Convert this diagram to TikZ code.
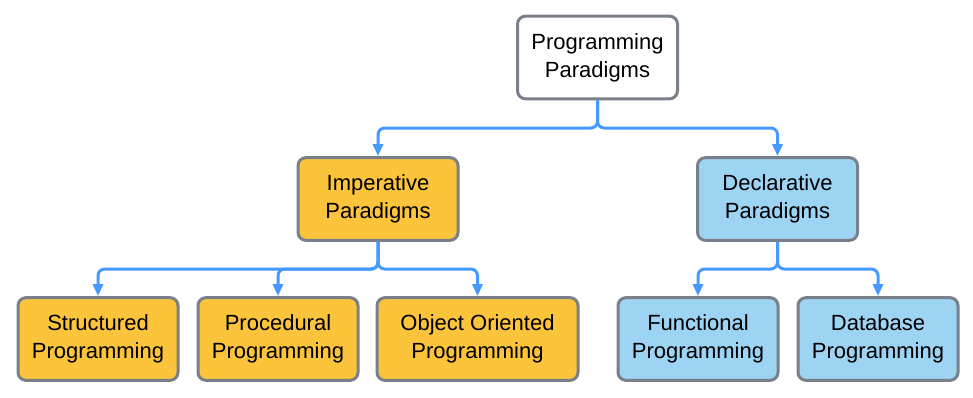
\documentclass[tikz,border=0pt]{standalone}
\usepackage{fontspec}
\setmainfont{Liberation Sans}
\usetikzlibrary{arrows.meta}
\definecolor{boxedge}{RGB}{122,128,137}
\definecolor{linkblue}{RGB}{70,154,255}
\definecolor{impfill}{RGB}{252,196,58}
\definecolor{decfill}{RGB}{157,211,243}
\tikzset{
  box/.style={draw=boxedge, line width=2.25pt, rounded corners=6pt,
    minimum height=62pt, align=center, inner sep=0pt,
    font=\fontsize{16.5}{21}\selectfont},
  rootbox/.style={box, fill=white, minimum width=120pt},
  impbox/.style={box, fill=impfill, minimum width=120pt},
  decbox/.style={box, fill=decfill, minimum width=120pt},
  link/.style={draw=linkblue, line width=2.25pt, rounded corners=5pt,
    -{Triangle[length=9pt,width=7.5pt]}},
}
\begin{document}
\begin{tikzpicture}[x=0.75pt,y=-0.75pt]
\useasboundingbox (0,0) rectangle (973,397);
% tree of paradigms
\node[rootbox] (root) at (597.5,57.5) {Programming\\Paradigms};
\node[impbox] (imp) at (378,199) {Imperative\\Paradigms};
\node[decbox] (dec) at (777.5,199) {Declarative\\Paradigms};
\node[impbox] (str) at (98,339) {Structured\\Programming};
\node[impbox] (proc) at (278,339) {Procedural\\Programming};
\node[impbox, minimum width=150.75pt] (oop) at (477.5,339) {Object Oriented\\Programming};
\node[decbox] (fun) at (698,339) {Functional\\Programming};
\node[decbox] (db) at (878,339) {Database\\Programming};
% branch points
\coordinate (j0) at (597.5,128);
\coordinate (j1) at (378,269);
\coordinate (j2) at (777.5,269);
% connectors
\draw[link] (root.south) -- (j0) -| (imp.north);
\draw[link] (root.south) -- (j0) -| (dec.north);
\draw[link] (imp.south) -- (j1) -| (str.north);
\draw[link] (imp.south) -- (j1) -| (proc.north);
\draw[link] (imp.south) -- (j1) -| (oop.north);
\draw[link] (dec.south) -- (j2) -| (fun.north);
\draw[link] (dec.south) -- (j2) -| (db.north);
\end{tikzpicture}
\end{document}
